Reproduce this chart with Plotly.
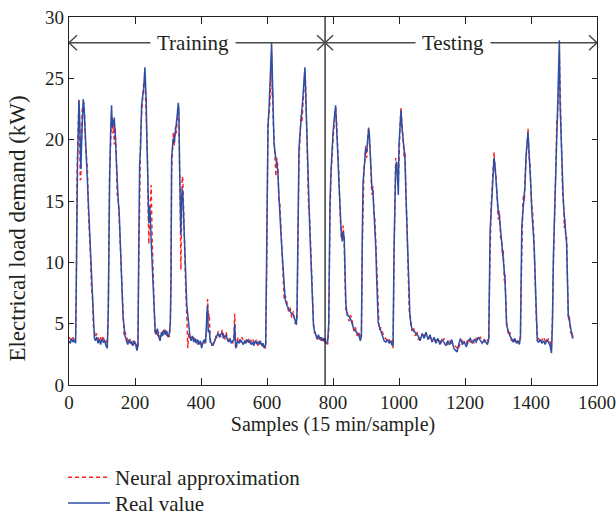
import plotly.graph_objects as go

# Sample index (15 min per sample) at which each load value was recorded
samples = [
    0, 4, 8, 12, 16, 20,
    22, 24, 26, 28, 30, 32, 34, 36, 38, 40, 43, 46, 50, 53, 56, 59, 62, 65, 68, 71, 74, 77,
    80, 84, 88, 92, 96, 100, 104, 108, 112, 116,
    119, 121, 123, 126, 129, 131, 133, 135, 137, 140, 143, 146, 149, 152, 155, 158, 161, 164, 167,
    170, 174, 178, 182, 186, 190, 194, 198, 202, 206, 209,
    211, 214, 217, 220, 223, 226, 230, 232, 234, 236, 238, 240, 242, 244, 246, 249, 252, 255, 258, 261,
    264, 268, 272, 276, 280, 284, 288, 292, 296, 300, 304,
    307, 309, 311, 314, 316, 319, 322, 325, 328, 331, 333, 335, 337, 339, 341, 343, 345, 347, 349, 351,
    354, 357, 360, 363, 366, 370, 374, 378, 382, 386, 390, 394, 398, 402, 406, 410, 414,
    418, 420, 422, 425, 428, 432, 436, 440, 444, 448, 452, 456, 460, 464, 468, 472, 476, 480, 484, 488,
    492, 496, 500, 502, 505, 508, 512, 516, 520, 524, 528, 532, 536, 540, 544, 548, 552, 556, 560, 564,
    568, 572, 576, 580, 584, 588, 592, 596,
    599, 601, 603, 606, 609, 612, 614, 616, 617, 619, 621, 624, 627, 630, 633, 636, 639, 642, 645, 649,
    652, 655, 660, 665, 670, 675, 680, 685, 689,
    691, 693, 695, 697, 700, 703, 706, 709, 712, 715, 717, 719, 721, 723, 726, 729, 732, 735, 738, 741,
    744, 748, 752, 756, 760, 764, 768, 772, 776, 780, 784,
    787, 789, 791, 794, 797, 800, 803, 806, 808, 810, 812, 815, 818, 820, 822, 825, 828, 831, 834, 836,
    839, 843, 848, 853, 858, 863, 868, 873, 878, 883,
    886, 889, 891, 894, 896, 899, 902, 905, 908, 910, 913, 916, 918, 921, 924, 927, 930, 932, 935, 937,
    940, 945, 950, 955, 960, 965, 970, 975, 978, 982,
    985, 988, 990, 993, 996, 998, 1000, 1003, 1006, 1009, 1013, 1016, 1018, 1021, 1023, 1026, 1028,
    1031, 1033, 1036, 1039, 1044, 1049, 1054,
    1058, 1064, 1070, 1076, 1082, 1088, 1094, 1100, 1106, 1112, 1118, 1124, 1130, 1136, 1142, 1148,
    1154, 1160, 1166, 1172, 1176, 1180, 1186, 1192, 1198, 1204, 1210, 1216, 1222, 1228, 1234, 1240,
    1246, 1252, 1258, 1264, 1268, 1272,
    1274, 1276, 1279, 1281, 1284, 1286, 1288, 1291, 1294, 1298, 1301, 1304, 1308, 1311, 1314, 1316,
    1319, 1321, 1324, 1326, 1331, 1336, 1341, 1346, 1351, 1356, 1361, 1365,
    1368, 1370, 1372, 1375, 1377, 1380, 1382, 1385, 1388, 1391, 1394, 1397, 1400, 1402, 1405, 1408,
    1410, 1413, 1416, 1419, 1423, 1428, 1433, 1438, 1443, 1448, 1453, 1458, 1462,
    1465, 1468, 1471, 1473, 1476, 1478, 1480, 1482, 1484, 1486, 1488, 1490, 1493, 1496, 1498, 1501,
    1503, 1505, 1508, 1511, 1513, 1516, 1520, 1523, 1526, 1528,
]

# Measured electrical load (kW)
real_kw = [
    3.6, 3.4, 3.8, 3.5, 3.7, 3.4,
    8.0, 17.5, 18.5, 20.5, 23.2, 22.0, 18.0, 17.6, 19.5, 22.0, 23.3, 22.5, 20.0, 18.4, 17.0, 14.5, 12.0, 10.2, 8.5, 6.8, 4.5, 3.8,
    3.6, 3.9, 3.4, 3.7, 3.3, 3.8, 3.5, 3.6, 3.2, 3.0,
    6.0, 15.0, 16.5, 20.5, 22.8, 21.0, 21.6, 21.2, 21.8, 20.5, 18.2, 16.0, 15.0, 14.2, 11.5, 9.0, 7.5, 5.5, 4.5,
    4.0, 3.6, 3.3, 3.7, 3.4, 3.5, 3.2, 3.6, 3.3, 2.8, 3.2,
    10.0, 17.9, 19.5, 22.8, 23.5, 24.0, 25.9, 24.5, 23.2, 20.0, 17.9, 15.0, 13.2, 14.6, 14.0, 11.7, 10.0, 7.5, 5.7, 4.5,
    4.1, 4.6, 3.9, 3.6, 4.3, 4.0, 4.5, 4.1, 4.4, 3.9, 4.2,
    5.0, 8.4, 18.5, 19.5, 20.1, 19.8, 20.5, 21.0, 22.0, 23.0, 22.5, 18.0, 16.0, 12.2, 15.0, 16.0, 15.5, 13.8, 12.0, 10.6,
    8.5, 6.5, 5.7, 4.6, 4.1, 3.6, 4.0, 3.5, 3.8, 3.4, 3.7, 3.3, 3.6, 3.0, 3.5, 3.7, 3.4,
    5.9, 6.5, 4.3, 4.5, 3.5, 3.4, 3.2, 3.6, 3.8, 4.0, 4.2, 3.9, 4.1, 4.3, 3.8, 4.0, 4.1, 3.7, 3.5, 3.8,
    3.4, 3.6, 3.7, 5.0, 3.0, 3.3, 3.6, 3.4, 3.7, 3.5, 3.3, 3.6, 3.4, 3.7, 3.5, 3.6, 3.3, 3.5, 3.2, 3.6,
    3.4, 3.5, 3.3, 3.6, 3.2, 3.4, 3.0, 3.3,
    10.0, 19.3, 21.0, 22.5, 24.0, 26.5, 27.9, 25.0, 23.4, 21.0, 19.8, 19.0, 18.5, 18.0, 17.4, 15.5, 14.4, 12.5, 11.1, 9.0,
    7.5, 7.0, 6.5, 6.2, 6.0, 5.8, 5.7, 5.3, 4.9,
    6.0, 11.1, 16.0, 19.3, 20.5, 21.5, 22.0, 23.5, 24.8, 25.9, 24.0, 22.0, 19.5, 17.1, 15.0, 13.2, 11.0, 8.4, 6.5, 4.8,
    4.4, 4.0, 3.8, 4.1, 3.7, 3.9, 3.6, 3.8, 3.5, 3.4, 3.6,
    5.0, 11.7, 15.0, 17.5, 19.3, 20.5, 21.5, 22.2, 22.8, 21.5, 20.6, 18.5, 16.5, 15.0, 13.2, 12.5, 11.7, 12.5, 12.0, 8.5,
    6.6, 5.7, 5.6, 5.4, 5.0, 4.6, 4.4, 4.2, 4.1, 3.6,
    4.0, 12.5, 16.5, 17.5, 18.2, 19.3, 19.0, 20.0, 20.9, 20.5, 18.7, 17.0, 16.0, 15.8, 14.5, 13.2, 11.0, 9.0, 7.0, 5.1,
    4.8, 4.4, 4.0, 3.6, 3.5, 3.7, 3.4, 3.6, 3.3, 3.2,
    11.1, 17.1, 17.8, 18.2, 17.0, 15.5, 19.6, 21.5, 22.4, 21.0, 19.8, 19.0, 18.5, 15.5, 13.8, 11.0, 8.4,
    6.5, 5.7, 5.0, 4.6, 4.4, 4.3, 4.1,
    4.0, 3.6, 4.2, 3.8, 4.3, 3.7, 4.1, 3.5, 3.9, 3.4, 3.8, 3.3, 3.7, 3.5, 3.2, 3.6,
    3.3, 3.7, 3.0, 2.8, 2.7, 3.2, 3.8, 3.3, 3.5, 3.1, 3.6, 3.8, 3.4, 3.7, 3.5, 3.9,
    3.6, 3.4, 3.7, 3.5, 3.3, 3.8,
    8.0, 12.5, 14.0, 14.9, 16.5, 17.5, 18.5, 17.9, 16.5, 14.6, 14.0, 13.8, 12.5, 11.4, 11.0, 10.5,
    9.0, 8.7, 6.5, 4.9, 4.4, 4.0, 3.8, 3.5, 3.8, 3.4, 3.6, 3.3,
    4.0, 8.0, 12.8, 14.0, 14.9, 15.5, 16.3, 18.7, 19.5, 20.6, 19.0, 17.9, 16.0, 14.4, 13.5, 12.0,
    11.0, 8.0, 5.0, 3.6, 3.5, 3.7, 3.4, 3.6, 3.3, 3.7, 3.5, 3.2, 2.6,
    5.0, 10.6, 13.0, 14.9, 18.0, 20.4, 22.0, 24.0, 26.5, 28.1, 23.0, 21.2, 17.9, 16.0, 14.9, 13.8,
    13.0, 12.5, 11.5, 8.0, 5.7, 5.3, 4.6, 4.1, 3.8, 3.9,
]

# Neural network approximation of the same load (kW)
neural_kw = [
    3.9, 3.7, 3.6, 3.9, 3.5, 3.8,
    7.0, 16.5, 19.5, 21.5, 23.3, 21.0, 16.7, 16.8, 20.5, 22.5, 22.8, 23.0, 19.5, 18.0, 17.5, 14.0, 12.5, 10.5, 8.0, 7.2, 4.8, 4.2,
    3.9, 4.2, 3.8, 3.5, 3.9, 3.6, 4.0, 3.4, 3.6, 3.3,
    5.5, 14.0, 17.5, 19.5, 22.0, 21.8, 20.5, 21.5, 19.6, 21.0, 18.8, 15.5, 15.5, 13.5, 12.0, 8.5, 7.8, 6.0, 4.0,
    4.3, 3.9, 3.6, 3.4, 3.8, 3.3, 3.6, 3.4, 3.5, 3.1, 3.0,
    9.0, 17.0, 20.5, 22.0, 23.0, 24.5, 25.0, 23.5, 22.8, 21.0, 18.5, 14.0, 11.5, 13.5, 15.0, 16.3, 12.0, 8.0, 6.5, 4.2,
    4.5, 4.0, 4.3, 3.9, 4.0, 4.4, 4.2, 4.5, 4.0, 4.3, 3.9,
    4.8, 8.0, 17.5, 20.5, 20.6, 19.5, 21.0, 20.5, 21.5, 22.5, 21.8, 19.0, 14.5, 9.4, 14.0, 17.0, 16.8, 14.5, 11.5, 10.0,
    7.5, 5.5, 3.0, 4.2, 3.8, 3.9, 3.7, 3.9, 3.5, 3.7, 3.3, 3.6, 3.4, 3.3, 3.2, 3.4, 3.7,
    5.0, 7.0, 5.5, 5.8, 3.8, 3.2, 3.5, 3.4, 4.0, 3.8, 4.4, 4.1, 3.9, 4.5, 4.0, 3.7, 4.3, 3.9, 3.8, 3.6,
    3.7, 3.4, 4.0, 5.8, 3.6, 3.1, 3.9, 3.7, 3.5, 3.9, 3.6, 3.4, 3.8, 3.5, 3.8, 3.3, 3.6, 3.8, 3.5, 3.3,
    3.7, 3.2, 3.6, 3.4, 3.5, 3.1, 3.3, 3.0,
    9.0, 18.5, 21.5, 22.0, 23.0, 25.0, 27.0, 23.5, 24.0, 21.5, 20.5, 18.5, 17.0, 18.5, 17.8, 15.0, 14.8, 13.0, 11.5, 9.5,
    7.0, 7.3, 6.8, 6.0, 6.3, 5.5, 6.0, 5.0, 5.2,
    5.5, 10.5, 15.0, 18.5, 20.0, 22.0, 21.5, 23.0, 24.0, 25.5, 24.5, 22.5, 20.0, 17.5, 14.5, 13.8, 11.5, 8.0, 6.8, 5.0,
    4.2, 4.3, 3.6, 3.9, 4.0, 3.6, 3.9, 3.5, 3.8, 3.6, 3.3,
    4.5, 11.0, 14.0, 17.0, 19.0, 20.0, 21.0, 22.0, 22.6, 22.0, 20.0, 19.0, 17.0, 14.0, 13.5, 12.0, 12.2, 13.0, 11.5, 9.0,
    6.0, 6.0, 5.2, 5.7, 5.3, 4.4, 4.7, 4.0, 4.3, 3.9,
    3.8, 11.5, 16.0, 17.8, 18.0, 19.5, 18.5, 20.3, 21.0, 20.2, 19.0, 16.5, 15.5, 16.2, 14.0, 13.5, 11.5, 9.5, 7.5, 5.5,
    4.5, 4.7, 4.2, 3.9, 3.8, 3.5, 3.7, 3.4, 3.6, 3.0,
    10.5, 16.5, 18.5, 18.0, 17.5, 16.5, 19.0, 21.0, 22.6, 21.5, 20.3, 18.5, 19.0, 16.0, 13.2, 11.5, 8.8,
    6.0, 5.9, 5.3, 4.4, 4.7, 4.0, 4.4,
    3.7, 3.9, 4.0, 4.1, 4.0, 4.0, 3.8, 3.8, 3.6, 3.7, 3.5, 3.6, 3.4, 3.8, 3.5, 3.3,
    3.6, 3.4, 3.3, 3.1, 3.0, 2.9, 3.5, 3.6, 3.3, 3.4, 3.8, 3.5, 3.7, 3.4, 3.8, 3.6,
    3.9, 3.7, 3.5, 3.8, 3.6, 3.5,
    7.5, 12.0, 14.5, 15.5, 17.0, 18.0, 19.0, 17.5, 17.0, 15.0, 13.5, 14.2, 12.0, 11.8, 10.5, 11.0,
    8.5, 9.0, 6.0, 5.2, 4.1, 4.3, 3.6, 3.8, 3.5, 3.7, 3.4, 3.6,
    3.8, 7.5, 12.0, 14.5, 15.5, 15.0, 17.0, 18.5, 19.8, 20.9, 18.5, 18.3, 15.5, 15.0, 14.0, 12.5,
    10.5, 8.5, 5.5, 3.9, 3.8, 3.4, 3.7, 3.9, 3.6, 3.4, 3.8, 3.5, 3.0,
    5.5, 10.0, 12.5, 14.5, 18.5, 21.5, 21.5, 23.0, 25.0, 27.0, 24.5, 22.0, 18.5, 15.5, 15.5, 12.8,
    13.5, 12.0, 12.0, 8.5, 5.3, 5.7, 4.2, 4.4, 4.1, 3.8,
]

# Training / testing split of the data set
split_sample = 776
x_max = 1600
arrow_level = 27.9
phase_labels = ["Training", "Testing"]
phase_centres = [376, 1164]

x_ticks = [0, 200, 400, 600, 800, 1000, 1200, 1400, 1600]
y_ticks = [0, 5, 10, 15, 20, 25, 30]

FONT = "Liberation Serif, Times New Roman, serif"
INK = "#231f20"
ARROW_INK = "#4a4a4a"

fig = go.Figure()

fig.add_trace(go.Scatter(
    x=samples, y=neural_kw, mode="lines", name="Neural approximation",
    line=dict(color="#ff1f1f", width=1.4, dash="4px,3px"),
    legend="legend",
))
fig.add_trace(go.Scatter(
    x=samples, y=real_kw, mode="lines", name="Real value",
    line=dict(color="#2c4fa6", width=1.5),
    legend="legend2",
))

shapes = [
    # split line between training and testing samples
    dict(type="line", xref="x", yref="y", x0=split_sample, x1=split_sample, y0=0, y1=30,
         line=dict(color=INK, width=1.3)),
    # horizontal span arrows
    dict(type="line", xref="x", yref="y", x0=0, x1=split_sample, y0=arrow_level, y1=arrow_level,
         line=dict(color=ARROW_INK, width=1.5)),
    dict(type="line", xref="x", yref="y", x0=split_sample, x1=x_max, y0=arrow_level, y1=arrow_level,
         line=dict(color=ARROW_INK, width=1.5)),
]

# open chevron arrow heads, drawn in pixel units around each arrow end
left_head = "M 8,7.5 L 0,0 L 8,-7.5"
right_head = "M -8,7.5 L 0,0 L -8,-7.5"
for anchor, path in [(0, left_head), (split_sample, right_head),
                     (split_sample, left_head), (x_max, right_head)]:
    shapes.append(dict(
        type="path", xref="x", yref="y", xsizemode="pixel", ysizemode="pixel",
        xanchor=anchor, yanchor=arrow_level, path=path,
        line=dict(color=ARROW_INK, width=1.5),
    ))

annotations = []
for label, centre in zip(phase_labels, phase_centres):
    annotations.append(dict(
        x=centre, y=arrow_level, xref="x", yref="y", text=label, showarrow=False,
        font=dict(family=FONT, size=21, color=INK),
        bgcolor="white", borderpad=6, yanchor="middle", xanchor="center",
    ))

# vertical axis title, placed as rotated text left of the tick labels
annotations.append(dict(
    x=-0.0966, y=0.425, xref="paper", yref="paper", text="Electrical load demand (kW)",
    textangle=-90, showarrow=False, xanchor="center", yanchor="middle",
    font=dict(family=FONT, size=23, color=INK),
))

axis_common = dict(
    showline=True, linecolor=INK, linewidth=1.3, mirror="ticks",
    ticks="inside", tickcolor=INK, tickwidth=1.2,
    showgrid=False, zeroline=False, automargin=False,
    tickfont=dict(family=FONT, size=19, color=INK),
)

legend_common = dict(
    x=-0.0114, xanchor="left", yanchor="top", itemwidth=42,
    font=dict(family=FONT, size=21, color=INK),
    bgcolor="rgba(0,0,0,0)",
)

fig.update_layout(
    width=616, height=518,
    margin=dict(l=69, r=19, t=17, b=133, autoexpand=False),
    paper_bgcolor="white", plot_bgcolor="white",
    font=dict(family=FONT, color=INK),
    shapes=shapes, annotations=annotations,
    xaxis=dict(range=[0, x_max], tickvals=x_ticks, ticklen=7,
               title=dict(text="Samples (15 min/sample)", font=dict(family=FONT, size=20, color=INK), standoff=4),
               **axis_common),
    yaxis=dict(range=[0, 30], tickvals=y_ticks, ticklen=5, **axis_common),
    legend=dict(y=-0.196, **legend_common),
    legend2=dict(y=-0.266, **legend_common),
    showlegend=True,
)

fig.write_html("out.html")
